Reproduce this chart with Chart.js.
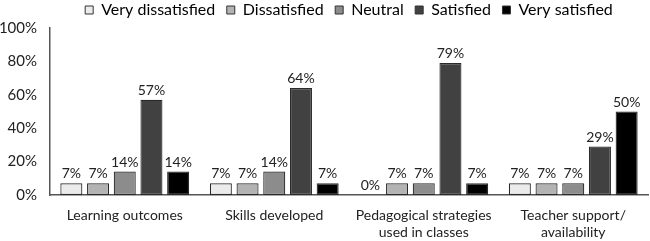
<!DOCTYPE html>
<html><head><meta charset="utf-8">
<script src="https://cdn.jsdelivr.net/npm/chart.js@4/dist/chart.umd.min.js"></script>
<style>html,body{margin:0;padding:0;background:#fff}#wrap{width:650px;height:241px}</style>
</head><body><div id="wrap"><canvas id="c"></canvas></div>
<script>
const categories = [["Learning outcomes"],["Skills developed"],["Pedagogical strategies","used in classes"],["Teacher support/","availability"]];
const seriesNames = ["Very dissatisfied","Dissatisfied","Neutral","Satisfied","Very satisfied"];
const veryDissatisfied = [7,7,0,7];
const dissatisfied = [7,7,7,7];
const neutral = [14,14,7,7];
const satisfied = [57,64,79,29];
const verySatisfied = [14,7,7,50];
const yTicks = [0,20,40,60,80,100];
const colors = ["#ebebeb","#b3b3b3","#8c8c8c","#414141","#000000"];
const FONT = "Lato, sans-serif";
const LEGEND_PAD = 11.5;

const labelPlugin = {
  id:'vals',
  afterLayout(chart){
    // center legend over the plot area and pull it up to the top edge
    const lg = chart.legend;
    if(lg){
      const dx=((chart.chartArea.left+chart.chartArea.right)/2)-((lg.left+lg.right)/2);
      lg.left+=dx;lg.right+=dx;
      lg.top = 9 - LEGEND_PAD - 7;
      lg.bottom = chart.chartArea.top;
      lg.height = lg.bottom - lg.top;
    }
  },
  afterDatasetsDraw(chart){
    const ctx = chart.ctx;
    ctx.save();
    ctx.font = "14px " + FONT;
    ctx.fillStyle = "#222";
    ctx.textAlign = "center";
    ctx.textBaseline = "alphabetic";
    chart.data.datasets.forEach((ds,i)=>{
      chart.getDatasetMeta(i).data.forEach((bar,j)=>{
        ctx.fillText(ds.data[j]+"%", bar.x, bar.y-5);
      });
    });
    ctx.restore();
  }
};

const allData = [veryDissatisfied,dissatisfied,neutral,satisfied,verySatisfied];
new Chart(document.getElementById('c'),{
  type:'bar',
  data:{labels:categories,datasets:allData.map((d,i)=>({label:seriesNames[i],data:d,backgroundColor:colors[i],borderColor:"#2a2a2a",borderWidth:1.2,borderSkipped:false,categoryPercentage:0.893,barPercentage:0.825}))},
  options:{
    responsive:true,maintainAspectRatio:false,animation:false,
    layout:{padding:{left:0,right:2,top:0,bottom:0}},
    plugins:{
      legend:{position:'top',maxHeight:28,labels:{font:{family:FONT,size:16},color:"#222",boxWidth:8,boxHeight:8,padding:LEGEND_PAD,
        generateLabels(chart){return chart.data.datasets.map((ds,i)=>({text:ds.label,fillStyle:ds.backgroundColor,strokeStyle:"#333",lineWidth:1,datasetIndex:i}));}}},
      tooltip:{enabled:false}
    },
    scales:{
      x:{grid:{display:false,drawTicks:false},border:{color:"#555",width:1.5},
        ticks:{font:{family:FONT,size:14,lineHeight:1.2},color:"#222",padding:12,maxRotation:0,autoSkip:false},
        afterFit(ax){ax.height=46;}},
      y:{min:0,max:100,afterBuildTicks(ax){ax.ticks=yTicks.map(v=>({value:v}));},
        grid:{display:false,drawTicks:true,drawOnChartArea:false,tickLength:9,color:"#555",tickWidth:1.5},
        border:{color:"#555",width:1.5},
        ticks:{font:{family:FONT,size:15},color:"#222",padding:4,callback:v=>v+"%"},
        afterFit(ax){ax.width=50;}}
    }
  },
  plugins:[labelPlugin]
});
</script></body></html>
